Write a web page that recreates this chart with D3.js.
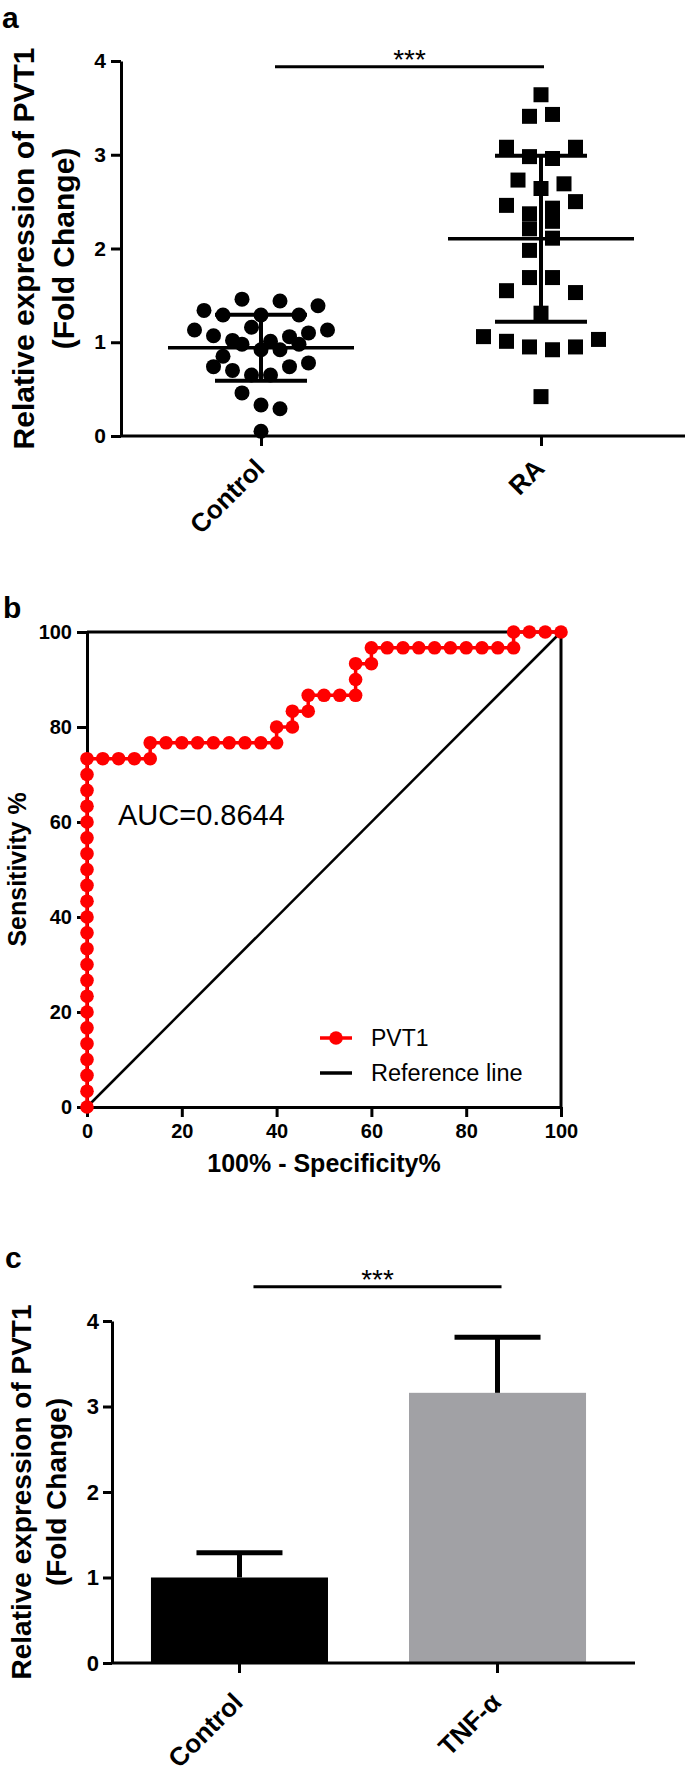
<!DOCTYPE html>
<html>
<head>
<meta charset="utf-8">
<script src="https://cdn.jsdelivr.net/npm/d3@7"></script>
<style>
  body { margin: 0; background: #fff; }
  svg { display: block; font-family: "Liberation Sans", Arial, sans-serif; }
  .bold { font-weight: bold; }
</style>
</head>
<body>
<div id="fig"></div>
<script>
let width = 685;
let height = 1774;

// panel a: scatter dot plot, mean +/- SD
let groupsA = ["Control", "RA"];
let controlA = [1.34, 1.29, 1.46, 1.29, 1.44, 1.29, 1.39,
                1.13, 1.07, 1.02, 1.16, 1.01, 1.06, 1.10, 1.13,
                0.85, 0.98, 0.92, 0.92, 0.98,
                0.74, 0.70, 0.65, 0.65, 0.74, 0.78,
                0.46, 0.33, 0.29, 0.05];
let raA = [3.64, 3.41, 3.43, 3.08, 2.98, 2.96, 3.08,
           2.73, 2.64, 2.69, 2.46, 2.37, 2.43, 2.50,
           2.21, 2.29, 1.98, 2.11, 1.55, 1.69, 1.69, 1.53,
           1.31, 1.06, 1.01, 0.95, 0.92, 0.95, 1.03, 0.42];
let ticksA = [0, 1, 2, 3, 4];
let sigLevelA = 3.94;

// panel b: ROC curve
let rocFpr = [0, 0, 0, 0, 0, 0, 0, 0, 0, 0, 0, 0, 0, 0, 0, 0, 0, 0, 0, 0, 0, 0, 0,
              3.33, 6.67, 10, 13.33, 13.33, 16.67, 20, 23.33, 26.67, 30, 33.33, 36.67,
              40, 40, 43.33, 43.33, 46.67, 46.67, 50, 53.33, 56.67, 56.67, 56.67,
              60, 60, 63.33, 66.67, 70, 73.33, 76.67, 80, 83.33, 86.67, 90,
              90, 93.33, 96.67, 100];
let rocSens = [0, 3.33, 6.67, 10, 13.33, 16.67, 20, 23.33, 26.67, 30, 33.33, 36.67,
               40, 43.33, 46.67, 50, 53.33, 56.67, 60, 63.33, 66.67, 70, 73.33,
               73.33, 73.33, 73.33, 73.33, 76.67, 76.67, 76.67, 76.67, 76.67, 76.67, 76.67, 76.67,
               76.67, 80, 80, 83.33, 83.33, 86.67, 86.67, 86.67, 86.67, 90, 93.33,
               93.33, 96.67, 96.67, 96.67, 96.67, 96.67, 96.67, 96.67, 96.67, 96.67, 96.67,
               100, 100, 100, 100];
let ticksB = [0, 20, 40, 60, 80, 100];
let aucLabel = "AUC=0.8644";

// panel c: bar chart, mean + SD
let groupsC = ["Control", "TNF-\u03b1"];
let meansC = [1.0, 3.16];
let sdC = [0.29, 0.65];
let barColours = ["#000000", "#a1a1a5"];
let ticksC = [0, 1, 2, 3, 4];
let sigLevelC = 4.4;

let svg = d3.select("#fig").append("svg")
    .attr("width", width).attr("height", height);

function panelLabel(text, x, y) {
    svg.append("text").attr("class", "bold")
        .attr("x", x).attr("y", y)
        .style("font-size", "30px")
        .text(text);
}

function yTitle(lines, x0, gap, cy, size) {
    lines.forEach((line, i) => {
        svg.append("text").attr("class", "bold")
            .attr("transform", `translate(${x0 + i * gap},${cy}) rotate(-90)`)
            .attr("text-anchor", "middle")
            .style("font-size", size + "px")
            .text(line);
    });
}

function styleAxis(g, fontSize) {
    g.select(".domain").attr("stroke-width", 3).attr("stroke", "#000");
    g.selectAll(".tick line").attr("stroke-width", 3).attr("stroke", "#000");
    g.selectAll(".tick text")
        .attr("class", "bold")
        .attr("fill", "#000")
        .style("font-size", fontSize + "px")
        .style("font-family", '"Liberation Sans", Arial, sans-serif');
}

// GraphPad-like column scatter: values close in height share a row,
// and each row is spread evenly around the column centre
function rowOffsets(values, binSize, spacing) {
    let order = d3.range(values.length).sort((a, b) => values[b] - values[a]);
    let offsets = new Array(values.length);
    let i = 0;
    while (i < order.length) {
        let start = values[order[i]];
        let row = [];
        while (i < order.length && start - values[order[i]] < binSize) {
            row.push(order[i]);
            i++;
        }
        row.sort((a, b) => a - b);
        row.forEach((idx, k) => { offsets[idx] = (k - (row.length - 1) / 2) * spacing; });
    }
    return offsets;
}

function sigBar(x1, x2, y, label) {
    svg.append("line")
        .attr("x1", x1).attr("x2", x2).attr("y1", y).attr("y2", y)
        .attr("stroke", "#000").attr("stroke-width", 3);
    svg.append("text")
        .attr("x", (x1 + x2) / 2).attr("y", y + 2)
        .attr("text-anchor", "middle")
        .style("font-size", "28px")
        .text(label);
}

function rotatedLabels(pos, cats, axisY, dx, dy, size) {
    cats.forEach(c => {
        svg.append("text").attr("class", "bold")
            .attr("transform", `translate(${pos(c) + dx},${axisY + dy}) rotate(-45)`)
            .attr("text-anchor", "end")
            .style("font-size", size + "px")
            .text(c);
    });
}

// ---------- panel a ----------
{
    let x = d3.scalePoint().domain(groupsA).range([121, 681]).padding(0.5);
    let y = d3.scaleLinear().domain([0, 4]).range([436, 61]);
    let r = 7.5;
    let sq = 15;

    let gy = svg.append("g").attr("transform", "translate(121,0)")
        .call(d3.axisLeft(y).tickValues(ticksA).tickFormat(d3.format("d"))
            .tickSize(10).tickPadding(5).tickSizeOuter(0));
    styleAxis(gy, 21);
    let gx = svg.append("g").attr("transform", "translate(0,436)")
        .call(d3.axisBottom(x).tickSize(10).tickSizeOuter(0));
    styleAxis(gx, 21);
    gx.select(".domain").attr("d", "M121,0H685");
    gx.selectAll(".tick text").remove();
    rotatedLabels(x, groupsA, 436, 5, 34, 26);

    let ctrlDx = rowOffsets(controlA, 0.175, 19);
    svg.append("g").selectAll("circle").data(controlA).enter().append("circle")
        .attr("cx", (d, i) => x("Control") + ctrlDx[i]).attr("cy", d => y(d)).attr("r", r)
        .attr("fill", "#000");

    let raDx = rowOffsets(raA, 0.175, 23);
    svg.append("g").selectAll("rect").data(raA).enter().append("rect")
        .attr("x", (d, i) => x("RA") + raDx[i] - sq / 2).attr("y", d => y(d) - sq / 2)
        .attr("width", sq).attr("height", sq)
        .attr("fill", "#000");

    [controlA, raA].forEach((vals, i) => {
        let cx = x(groupsA[i]);
        let m = d3.mean(vals), s = d3.deviation(vals);
        let g = svg.append("g").attr("stroke", "#000");
        g.append("line").attr("x1", cx - 93).attr("x2", cx + 93)
            .attr("y1", y(m)).attr("y2", y(m)).attr("stroke-width", 3.5);
        g.append("line").attr("x1", cx).attr("x2", cx)
            .attr("y1", y(m + s)).attr("y2", y(m - s)).attr("stroke-width", 4);
        [m + s, m - s].forEach(v => {
            g.append("line").attr("x1", cx - 46).attr("x2", cx + 46)
                .attr("y1", y(v)).attr("y2", y(v)).attr("stroke-width", 4);
        });
    });

    sigBar(x("Control") + 14, x("RA") + 3, y(sigLevelA), "***");
    yTitle(["Relative expression of PVT1", "(Fold Change)"], 34, 40, (y(0) + y(4)) / 2, 30);
    panelLabel("a", 2, 28);
}

// ---------- panel b ----------
{
    let x = d3.scaleLinear().domain([0, 100]).range([87, 561]);
    let y = d3.scaleLinear().domain([0, 100]).range([1107, 632]);

    // frame top and right
    svg.append("line").attr("x1", x(0)).attr("x2", x(100)).attr("y1", y(100)).attr("y2", y(100))
        .attr("stroke", "#000").attr("stroke-width", 3);
    svg.append("line").attr("x1", x(100)).attr("x2", x(100)).attr("y1", y(100)).attr("y2", y(0))
        .attr("stroke", "#000").attr("stroke-width", 3);

    let gy = svg.append("g").attr("transform", `translate(${x(0)},0)`)
        .call(d3.axisLeft(y).tickValues(ticksB).tickFormat(d3.format("d"))
            .tickSize(10).tickPadding(5).tickSizeOuter(0));
    styleAxis(gy, 20);
    let gx = svg.append("g").attr("transform", `translate(0,${y(0)})`)
        .call(d3.axisBottom(x).tickValues(ticksB).tickFormat(d3.format("d"))
            .tickSize(10).tickPadding(7).tickSizeOuter(0));
    styleAxis(gx, 20);

    // reference line
    svg.append("line").attr("x1", x(0)).attr("y1", y(0)).attr("x2", x(100)).attr("y2", y(100))
        .attr("stroke", "#000").attr("stroke-width", 2.5);

    let roc = rocFpr.map((f, i) => [f, rocSens[i]]);
    svg.append("path").datum(roc)
        .attr("d", d3.line().x(d => x(d[0])).y(d => y(d[1])))
        .attr("fill", "none").attr("stroke", "#ff0000").attr("stroke-width", 3.5);
    svg.append("g").selectAll("circle").data(roc).enter().append("circle")
        .attr("cx", d => x(d[0])).attr("cy", d => y(d[1])).attr("r", 6.8)
        .attr("fill", "#ff0000");

    svg.append("text").attr("x", 118).attr("y", 825)
        .style("font-size", "29px").text(aucLabel);

    // legend
    let lg = svg.append("g");
    lg.append("line").attr("x1", 320).attr("x2", 352).attr("y1", 1038).attr("y2", 1038)
        .attr("stroke", "#ff0000").attr("stroke-width", 3.5);
    lg.append("circle").attr("cx", 336).attr("cy", 1038).attr("r", 6.8).attr("fill", "#ff0000");
    lg.append("text").attr("x", 371).attr("y", 1046).style("font-size", "23px").text("PVT1");
    lg.append("line").attr("x1", 320).attr("x2", 352).attr("y1", 1073).attr("y2", 1073)
        .attr("stroke", "#000").attr("stroke-width", 3.5);
    lg.append("text").attr("x", 371).attr("y", 1081).style("font-size", "23.5px").text("Reference line");

    svg.append("text").attr("class", "bold")
        .attr("x", (x(0) + x(100)) / 2).attr("y", 1172)
        .attr("text-anchor", "middle").style("font-size", "25px")
        .text("100% - Specificity%");
    yTitle(["Sensitivity %"], 26, 0, (y(0) + y(100)) / 2, 25);
    panelLabel("b", 3, 618);
}

// ---------- panel c ----------
{
    let x = d3.scaleBand().domain(groupsC).range([112, 625])
        .paddingInner(0.314).paddingOuter(0.151);
    let y = d3.scaleLinear().domain([0, 4]).range([1663, 1321]);

    svg.append("g").selectAll("rect").data(groupsC).enter().append("rect")
        .attr("x", d => x(d)).attr("width", x.bandwidth())
        .attr("y", (d, i) => y(meansC[i]))
        .attr("height", (d, i) => y(0) - y(meansC[i]))
        .attr("fill", (d, i) => barColours[i]);

    groupsC.forEach((c, i) => {
        let cx = x(c) + x.bandwidth() / 2;
        let top = meansC[i] + sdC[i];
        svg.append("line").attr("x1", cx).attr("x2", cx)
            .attr("y1", y(meansC[i])).attr("y2", y(top))
            .attr("stroke", "#000").attr("stroke-width", 5);
        svg.append("line").attr("x1", cx - 43).attr("x2", cx + 43)
            .attr("y1", y(top)).attr("y2", y(top))
            .attr("stroke", "#000").attr("stroke-width", 5);
    });

    let gy = svg.append("g").attr("transform", "translate(112,0)")
        .call(d3.axisLeft(y).tickValues(ticksC).tickFormat(d3.format("d"))
            .tickSize(9).tickPadding(4).tickSizeOuter(0));
    styleAxis(gy, 22);
    let gx = svg.append("g").attr("transform", "translate(0,1663)")
        .call(d3.axisBottom(x).tickSize(10).tickSizeOuter(0));
    styleAxis(gx, 22);
    gx.select(".domain").attr("d", "M112,0H635");
    gx.selectAll(".tick text").remove();
    let xc = c => x(c) + x.bandwidth() / 2;
    rotatedLabels(xc, groupsC, 1663, 5, 41, 26);

    sigBar(xc("Control") + 14, xc(groupsC[1]) + 4, y(sigLevelC), "***");
    yTitle(["Relative expression of PVT1", "(Fold Change)"], 31, 35, (y(0) + y(4)) / 2, 28);
    panelLabel("c", 5, 1268);
}
</script>
</body>
</html>
